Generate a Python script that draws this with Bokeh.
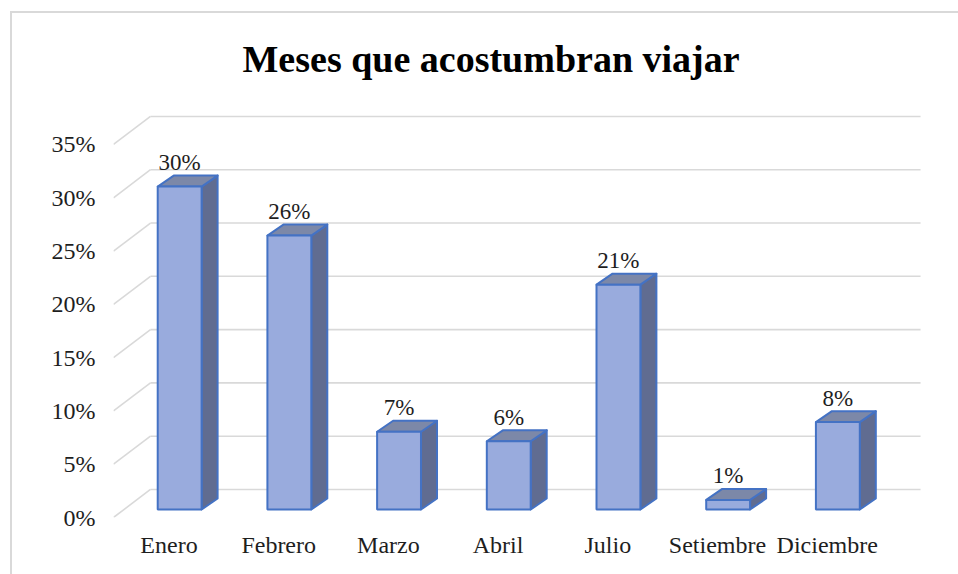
from bokeh.plotting import figure
from bokeh.models import FixedTicker, PrintfTickFormatter, Range1d
from bokeh.embed import file_html
from bokeh.resources import INLINE

# ---- data ----
months = ["Enero", "Febrero", "Marzo", "Abril", "Julio", "Setiembre", "Diciembre"]
values = [30.3, 25.7, 7.3, 6.4, 21.1, 0.9, 8.2]
y_ticks = [0, 5, 10, 15, 20, 25, 30, 35]
title_text = "Meses que acostumbran viajar"

# ---- pseudo-3D geometry (data units) ----
FLOOR_L, FLOOR_R = -0.506, 6.514
FLOOR_DX, FLOOR_DY = 0.337, 2.63     # depth of the floor (front edge -> back wall)
BAR_OX, BAR_OY = 0.097, 0.75         # bar front plane offset from floor front edge
BAR_DX, BAR_DY = 0.146, 1.03         # bar depth
BAR_W = 0.40

FONT = "Liberation Serif"
TXT = "#1e1e1e"
GRID = "#d9d9d9"
EDGE = "#4472c4"

W, H = 958, 574
border_css = {
    "background-image": "linear-gradient(#d9d9d9, #d9d9d9), linear-gradient(#d9d9d9, #d9d9d9)",
    "background-size": "2px 100%, 100% 2px",
    "background-position": "10px 11px, 10px 11px",
    "background-repeat": "no-repeat",
}
p = figure(width=W, height=H, output_backend="svg", toolbar_location=None,
           x_range=Range1d(-0.506, 6.896), y_range=Range1d(0, 38),
           min_border_left=113, min_border_right=33, min_border_top=112,
           min_border_bottom=57, styles=border_css)
p.outline_line_color = None
p.grid.visible = False
p.background_fill_color = None
p.border_fill_color = None

# gridlines: diagonal side-wall lines and back-wall lines
diag_x0 = [FLOOR_L for v in y_ticks]
diag_x1 = [FLOOR_L + FLOOR_DX for v in y_ticks]
diag_y0 = [v for v in y_ticks]
diag_y1 = [v + FLOOR_DY for v in y_ticks]
p.segment(diag_x0, diag_y0, diag_x1, diag_y1, line_color=GRID, line_width=1.6)
back_x1 = [FLOOR_R + FLOOR_DX for v in y_ticks]
p.segment(diag_x1, diag_y1, back_x1, diag_y1, line_color=GRID, line_width=1.6)

# bars
xs_c = [i + BAR_OX for i in range(len(months))]
lefts = [c - BAR_W / 2 for c in xs_c]
rights = [c + BAR_W / 2 for c in xs_c]
bottoms = [BAR_OY for v in values]
tops = [BAR_OY + v for v in values]

side_xs = [[r, r + BAR_DX, r + BAR_DX, r] for r in rights]
side_ys = [[b, b + BAR_DY, t + BAR_DY, t] for b, t in zip(bottoms, tops)]
p.patches(side_xs, side_ys, fill_color="#606c91", line_color=EDGE, line_width=2,
          line_join="round")
top_xs = [[l, l + BAR_DX, r + BAR_DX, r] for l, r in zip(lefts, rights)]
top_ys = [[t, t + BAR_DY, t + BAR_DY, t] for t in tops]
p.patches(top_xs, top_ys, fill_color="#7c88a8", line_color=EDGE, line_width=2,
          line_join="round")
p.quad(left=lefts, right=rights, bottom=bottoms, top=tops,
       fill_color="#99abdd", line_color=EDGE, line_width=2)

# data labels
labels = [f"{round(v)}%" for v in values]
p.text(x=xs_c, y=[t + BAR_DY for t in tops], text=labels,
       text_align="center", text_baseline="alphabetic", y_offset=-13,
       text_font={"value": FONT}, text_font_size={"value": "23px"}, text_color=TXT)

# axes
p.yaxis.ticker = FixedTicker(ticks=y_ticks)
p.yaxis.formatter = PrintfTickFormatter(format="%d%%")
p.xaxis.ticker = FixedTicker(ticks=list(range(len(months))))
p.xaxis.major_label_overrides = {i: m for i, m in enumerate(months)}
for ax in (p.xaxis, p.yaxis):
    ax.axis_line_color = None
    ax.major_tick_line_color = None
    ax.minor_tick_line_color = None
    ax.major_tick_out = 0
    ax.major_tick_in = 0
    ax.major_label_text_font = FONT
    ax.major_label_text_font_size = "24px"
    ax.major_label_text_color = TXT
p.yaxis.major_label_standoff = 18
p.xaxis.major_label_standoff = 14

# title
p.title.text = title_text
p.title.text_font = FONT
p.title.text_font_size = "38px"
p.title.text_font_style = "bold"
p.title.text_color = "black"
p.title.align = "left"
p.title.offset = 129
p.title.standoff = 66

open("out.html", "w").write(file_html(p, INLINE))
